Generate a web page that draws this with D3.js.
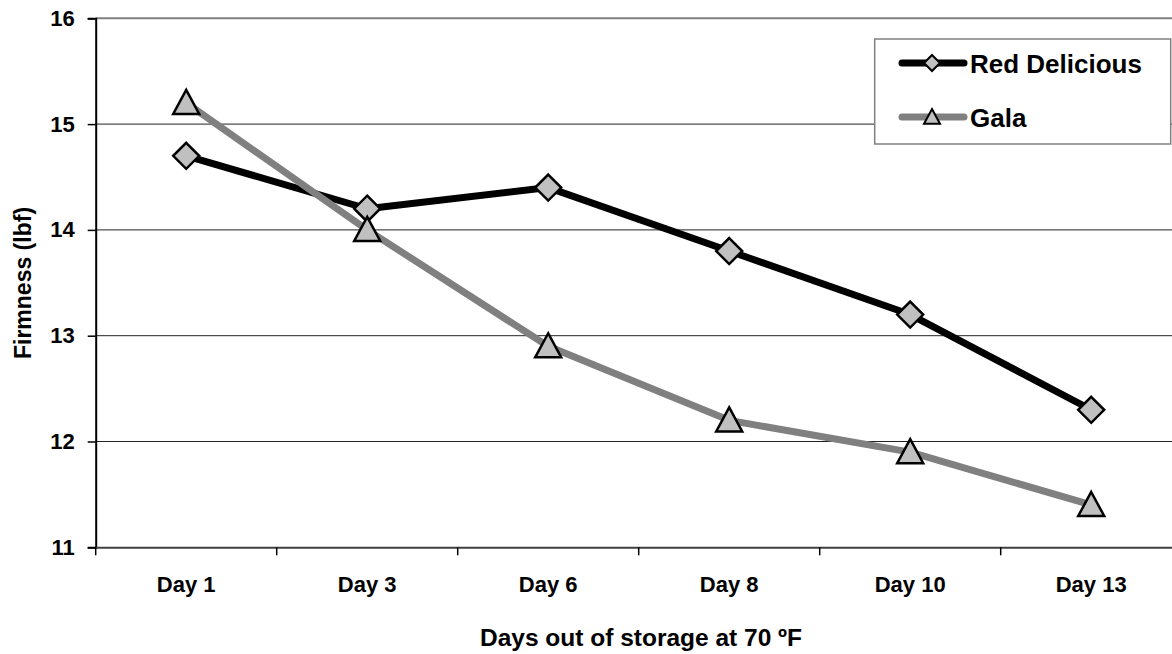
<!DOCTYPE html>
<html>
<head>
<meta charset="utf-8">
<script src="https://cdn.jsdelivr.net/npm/d3@7.9.0/dist/d3.min.js"></script>
<style>
  body { margin: 0; background: #fff; }
  svg { display: block; font-family: "Liberation Sans", Arial, sans-serif; font-weight: bold; }
</style>
</head>
<body>
<svg id="chart" width="1172" height="654"></svg>
<script>
// chart data
const days = ['Day 1', 'Day 3', 'Day 6', 'Day 8', 'Day 10', 'Day 13'];
const redDelicious = [14.7, 14.2, 14.4, 13.8, 13.2, 12.3];
const gala = [15.2, 14.0, 12.9, 12.2, 11.9, 11.4];
const yTicks = [11, 12, 13, 14, 15, 16];

const series = [
  { name: 'Red Delicious', values: redDelicious, stroke: '#000', marker: 'diamond' },
  { name: 'Gala', values: gala, stroke: '#808080', marker: 'triangle' }
];

const svg = d3.select('#chart');
const plotLeft = 95.7, plotTop = 18.3, plotBottom = 547.3, band = 181;

const x = d3.scaleBand().domain(days).range([plotLeft, plotLeft + band * days.length]).padding(0);
const y = d3.scaleLinear().domain([11, 16]).range([plotBottom, plotTop]);

// gridlines
svg.append('g')
  .selectAll('line')
  .data(yTicks.filter(d => d > 11 && d < 16))
  .join('line')
  .attr('x1', plotLeft).attr('x2', x.range()[1])
  .attr('y1', d => y(d)).attr('y2', d => y(d))
  .attr('stroke', '#222').attr('stroke-width', 1);

// plot border on top
svg.append('line')
  .attr('x1', plotLeft).attr('x2', x.range()[1])
  .attr('y1', plotTop).attr('y2', plotTop)
  .attr('stroke', '#808080').attr('stroke-width', 2);

// y axis
const yAxis = svg.append('g')
  .attr('transform', `translate(${plotLeft},0)`)
  .call(d3.axisLeft(y).tickValues(yTicks).tickSize(8).tickPadding(13).tickFormat(d3.format('d')));
yAxis.select('.domain').attr('stroke', '#000').attr('stroke-width', 2);
yAxis.selectAll('.tick line').attr('stroke', '#000').attr('stroke-width', 1.5);
yAxis.selectAll('.tick text')
  .attr('font-size', 22).attr('font-weight', 'bold')
  .attr('font-family', '"Liberation Sans", Arial, sans-serif')
  .attr('fill', '#000');

// x axis
const xAxis = svg.append('g')
  .attr('transform', `translate(0,${plotBottom})`)
  .call(d3.axisBottom(x).tickSize(0).tickPadding(29));
xAxis.select('.domain').attr('stroke', '#404040').attr('stroke-width', 2);
xAxis.selectAll('.tick text')
  .attr('font-size', 22).attr('font-weight', 'bold')
  .attr('font-family', '"Liberation Sans", Arial, sans-serif')
  .attr('fill', '#000');

// x ticks sit between categories
svg.append('g')
  .selectAll('line')
  .data(d3.range(days.length + 1))
  .join('line')
  .attr('x1', i => plotLeft + i * x.bandwidth()).attr('x2', i => plotLeft + i * x.bandwidth())
  .attr('y1', plotBottom).attr('y2', plotBottom + 8)
  .attr('stroke', '#000').attr('stroke-width', 1.5);

// axis titles
svg.append('text')
  .attr('x', 641).attr('y', 646)
  .attr('text-anchor', 'middle')
  .attr('font-size', 24.5)
  .text('Days out of storage at 70 ºF');

svg.append('text')
  .attr('transform', 'translate(31,283) rotate(-90)')
  .attr('text-anchor', 'middle')
  .attr('font-size', 23)
  .text('Firmness (lbf)');

// marker shapes
function markerPath(type, s) {
  if (type === 'diamond') return `M0,${-s}L${s},0L0,${s}L${-s},0Z`;
  return `M0,${-s}L${s},${s * 0.85}L${-s},${s * 0.85}Z`;
}

const line = d3.line()
  .x((d, i) => x(days[i]) + x.bandwidth() / 2)
  .y(d => y(d));

series.forEach(s => {
  svg.append('path')
    .attr('d', line(s.values))
    .attr('fill', 'none')
    .attr('stroke', s.stroke)
    .attr('stroke-width', 7)
    .attr('stroke-linejoin', 'round');
});

series.forEach(s => {
  svg.append('g')
    .selectAll('path')
    .data(s.values)
    .join('path')
    .attr('transform', (d, i) => `translate(${x(days[i]) + x.bandwidth() / 2},${y(d)})`)
    .attr('d', markerPath(s.marker, 13))
    .attr('fill', '#c0c0c0')
    .attr('stroke', '#000')
    .attr('stroke-width', 2.5)
    .attr('stroke-linejoin', 'miter');
});

// legend
const legend = svg.append('g');
legend.append('rect')
  .attr('x', 874.7).attr('y', 39)
  .attr('width', 296).attr('height', 105)
  .attr('fill', '#fff').attr('stroke', '#808080').attr('stroke-width', 1.5);

series.forEach((s, i) => {
  const cy = 63 + i * 54;
  legend.append('line')
    .attr('x1', 902).attr('x2', 964)
    .attr('y1', cy).attr('y2', cy)
    .attr('stroke', s.stroke).attr('stroke-width', 7)
    .attr('stroke-linecap', 'round');
  legend.append('path')
    .attr('transform', `translate(932,${cy})`)
    .attr('d', markerPath(s.marker, 8))
    .attr('fill', '#c0c0c0').attr('stroke', '#000').attr('stroke-width', 2);
  legend.append('text')
    .attr('x', 970).attr('y', cy + 10)
    .attr('font-size', 26)
    .text(s.name);
});
</script>
</body>
</html>
